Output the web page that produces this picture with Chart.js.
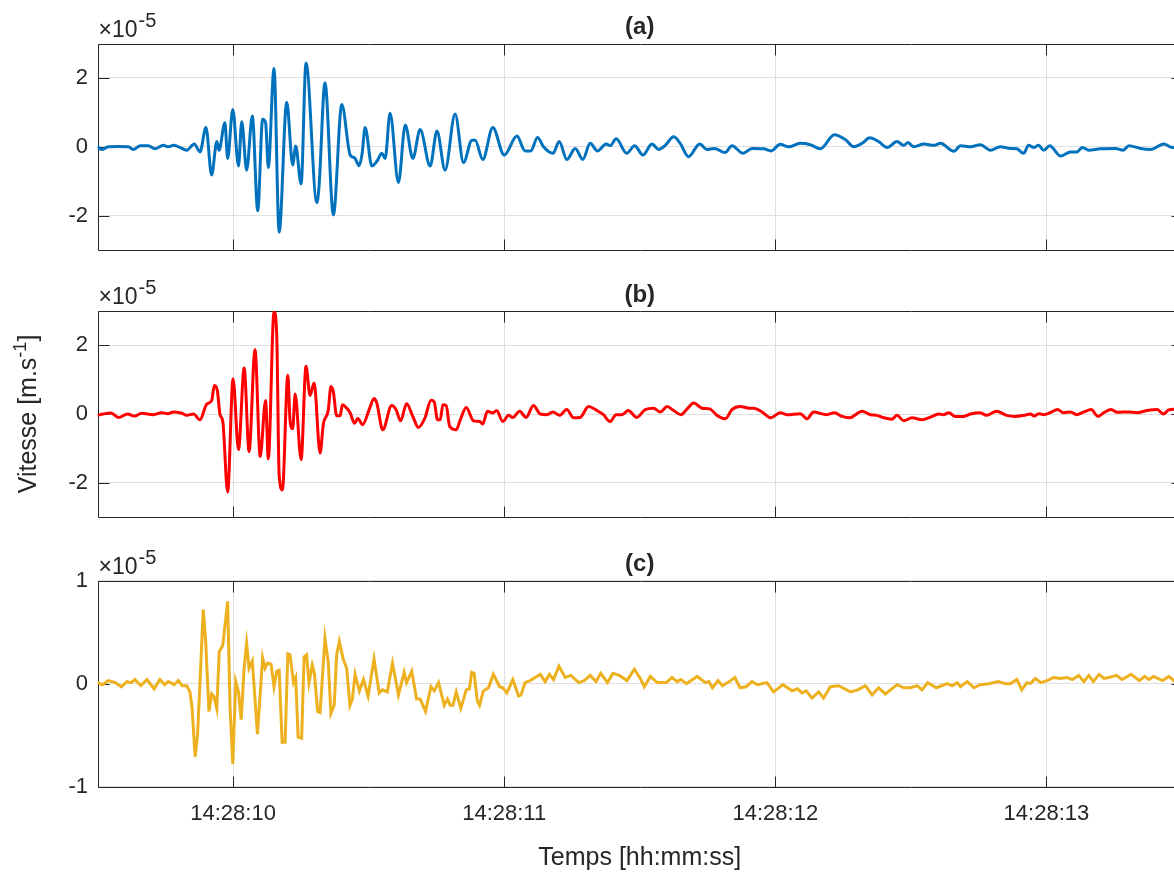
<!DOCTYPE html>
<html>
<head>
<meta charset="utf-8">
<script src="https://cdn.jsdelivr.net/npm/chart.js@4.4.1/dist/chart.umd.min.js"></script>
<style>
  html, body { margin: 0; padding: 0; background: #fff; overflow: hidden; width: 1174px; height: 875px; }
  canvas { position: absolute; left: 0; }
</style>
</head>
<body>
<canvas id="pa" width="1200" height="266" style="top:0px"></canvas>
<canvas id="pb" width="1200" height="266" style="top:270px"></canvas>
<canvas id="pc" width="1200" height="335" style="top:540px"></canvas>
<script>
// time in seconds after 14:28:00, values in units of 1e-5 m/s
var tickSeconds = [10, 11, 12, 13];
var tickLabels = ['14:28:10', '14:28:11', '14:28:12', '14:28:13'];
var yTicksAB = [-2, 0, 2];
var yTicksC = [-1, 0, 1];

var timesA = [9.500,9.515,9.540,9.575,9.614,9.632,9.658,9.687,9.712,9.743,9.761,9.780,9.804,9.829,9.857,9.878,9.900,9.921,9.940,9.948,
  9.970,9.980,9.999,10.020,10.032,10.050,10.071,10.091,10.109,10.120,10.130,10.151,10.170,10.198,10.220,10.231,10.251,10.269,10.309,10.317,
  10.339,10.370,10.401,10.432,10.448,10.465,10.476,10.487,10.512,10.530,10.549,10.561,10.579,10.610,10.635,10.663,10.690,10.727,10.752,10.782,
  10.819,10.850,10.881,10.893,10.921,10.958,11.000,11.047,11.077,11.098,11.123,11.145,11.180,11.203,11.231,11.262,11.290,11.317,11.344,11.376,
  11.391,11.413,11.452,11.481,11.512,11.545,11.570,11.594,11.625,11.649,11.680,11.721,11.748,11.775,11.815,11.840,11.881,11.914,11.957,11.985,
  12.018,12.049,12.092,12.129,12.166,12.218,12.258,12.289,12.320,12.348,12.381,12.412,12.449,12.474,12.489,12.511,12.548,12.585,12.609,12.659,
  12.683,12.720,12.756,12.793,12.830,12.867,12.891,12.916,12.934,12.953,12.971,12.990,13.012,13.052,13.089,13.113,13.132,13.156,13.199,13.255,
  13.283,13.304,13.347,13.384,13.433,13.464,13.500];
var valuesA = [0.02,-0.08,0.00,0.01,0.00,-0.08,0.03,0.03,-0.06,0.04,0.00,0.04,-0.02,-0.10,0.08,-0.15,0.56,-0.82,0.15,-0.10,
  0.70,-0.34,1.08,-0.56,0.73,-0.68,0.89,-1.86,0.80,0.70,-0.60,2.27,-2.48,1.29,-0.53,0.02,-1.08,2.43,-1.62,-1.16,
  1.86,-1.98,1.23,-0.24,-0.32,-0.55,-0.20,0.56,-0.56,-0.43,-0.19,-0.34,0.97,-1.04,0.63,-0.34,0.50,-0.56,0.46,-0.68,
  0.95,-0.46,0.19,0.19,-0.37,0.56,-0.24,0.31,-0.12,-0.12,0.27,0.00,-0.19,0.15,-0.37,-0.05,-0.37,0.10,-0.12,0.08,
  0.03,0.23,-0.19,0.03,-0.24,0.08,-0.08,0.04,0.29,0.10,-0.29,0.08,-0.08,-0.05,-0.17,0.03,-0.19,-0.05,-0.06,-0.12,
  0.07,0.00,0.10,0.06,-0.06,0.35,0.21,0.00,0.10,0.26,0.15,-0.02,0.15,0.04,0.12,0.00,0.08,0.04,0.10,-0.13,
  0.03,0.00,0.06,-0.10,0.00,-0.05,-0.06,-0.19,0.04,-0.02,0.04,-0.10,0.03,-0.27,-0.15,-0.15,-0.02,-0.10,-0.06,-0.05,
  -0.10,0.03,-0.05,-0.08,0.08,-0.02,0.00];

var timesB = [9.500,9.521,9.550,9.577,9.611,9.636,9.663,9.706,9.737,9.759,9.780,9.811,9.829,9.854,9.878,9.903,9.921,9.931,9.942,9.952,
  9.962,9.980,10.000,10.020,10.041,10.059,10.081,10.100,10.120,10.130,10.151,10.161,10.170,10.182,10.202,10.210,10.220,10.229,10.251,10.269,
  10.284,10.299,10.321,10.333,10.351,10.361,10.370,10.382,10.395,10.403,10.413,10.432,10.448,10.460,10.478,10.503,10.520,10.530,10.552,10.585,
  10.601,10.618,10.640,10.665,10.683,10.708,10.730,10.742,10.754,10.764,10.774,10.786,10.799,10.823,10.838,10.860,10.887,10.910,10.921,10.938,
  10.958,10.972,10.995,11.016,11.032,11.057,11.081,11.108,11.133,11.158,11.180,11.204,11.231,11.256,11.280,11.311,11.342,11.366,11.391,11.413,
  11.434,11.458,11.489,11.520,11.551,11.576,11.601,11.625,11.652,11.675,11.699,11.730,11.758,11.785,11.816,11.840,11.871,11.902,11.920,11.951,
  11.984,12.018,12.043,12.092,12.117,12.141,12.190,12.218,12.246,12.274,12.320,12.351,12.375,12.400,12.430,12.449,12.474,12.504,12.541,12.572,
  12.603,12.621,12.640,12.664,12.695,12.720,12.755,12.779,12.816,12.853,12.886,12.917,12.941,12.955,12.971,12.990,13.014,13.041,13.063,13.089,
  13.111,13.138,13.165,13.190,13.212,13.239,13.261,13.304,13.335,13.372,13.409,13.431,13.451,13.470,13.500];
var valuesB = [-0.04,0.00,0.03,-0.10,0.00,-0.06,0.02,-0.02,0.04,0.01,0.06,0.02,-0.04,0.00,-0.17,0.29,0.39,0.83,0.68,-0.02,
  -0.21,-2.27,1.03,-1.04,1.34,-1.09,1.87,-1.24,0.39,-1.30,2.98,2.31,-1.77,-2.21,1.13,-0.17,-0.43,0.58,-1.33,1.39,
  0.54,0.90,-1.14,-0.29,0.10,0.80,0.64,-0.05,-0.05,0.27,0.22,0.03,-0.27,-0.13,-0.31,0.15,0.45,0.32,-0.46,0.25,
  0.13,-0.20,0.30,-0.11,-0.39,-0.11,0.40,0.35,-0.17,-0.17,0.27,0.25,-0.36,-0.46,-0.17,0.19,-0.20,-0.22,-0.29,0.08,
  0.03,0.10,-0.22,-0.04,-0.10,0.08,-0.10,0.25,0.00,-0.02,0.06,-0.04,0.13,-0.11,-0.10,0.22,0.10,-0.02,-0.22,-0.02,
  -0.02,0.10,-0.10,0.13,0.17,0.06,0.22,0.10,-0.02,0.15,0.32,0.17,0.15,-0.04,-0.14,0.13,0.22,0.17,0.17,0.06,
  -0.11,0.04,-0.02,0.01,-0.14,0.06,-0.02,0.04,-0.07,-0.11,0.08,-0.02,-0.04,-0.11,-0.15,-0.04,-0.20,-0.11,-0.17,-0.09,
  0.00,-0.02,0.04,-0.07,-0.07,0.00,0.04,-0.04,0.08,-0.04,-0.07,-0.04,0.00,-0.06,0.01,-0.02,0.04,0.13,0.04,0.06,
  -0.02,0.06,0.13,-0.07,0.04,0.13,0.05,0.06,0.04,0.10,0.13,0.00,0.12,0.14,0.12];

var timesC = [9.500,9.518,9.540,9.565,9.588,9.608,9.624,9.638,9.660,9.682,9.709,9.730,9.748,9.761,9.783,9.798,9.812,9.829,9.841,9.849,
  9.860,9.869,9.878,9.890,9.899,9.911,9.921,9.930,9.940,9.949,9.962,9.980,9.989,9.999,10.010,10.020,10.030,10.041,10.050,10.059,
  10.071,10.090,10.109,10.118,10.127,10.140,10.151,10.161,10.170,10.181,10.192,10.202,10.210,10.223,10.231,10.240,10.253,10.262,10.271,10.280,
  10.292,10.300,10.312,10.321,10.339,10.351,10.361,10.373,10.382,10.392,10.406,10.419,10.431,10.440,10.450,10.466,10.481,10.498,10.520,10.539,
  10.551,10.569,10.588,10.610,10.631,10.640,10.659,10.677,10.690,10.710,10.730,10.742,10.758,10.779,10.791,10.801,10.811,10.823,10.840,10.860,
  10.872,10.880,10.889,10.901,10.909,10.923,10.942,10.960,10.983,10.995,11.010,11.032,11.053,11.062,11.077,11.096,11.114,11.133,11.151,11.167,
  11.182,11.202,11.225,11.246,11.275,11.296,11.317,11.339,11.356,11.381,11.401,11.425,11.453,11.480,11.502,11.517,11.539,11.564,11.598,11.619,
  11.638,11.652,11.672,11.712,11.742,11.755,11.768,11.789,11.805,11.830,11.851,11.870,11.892,11.914,11.934,11.969,11.994,12.028,12.062,12.082,
  12.098,12.114,12.135,12.160,12.178,12.203,12.234,12.277,12.304,12.332,12.357,12.381,12.406,12.449,12.474,12.498,12.523,12.541,12.562,12.594,
  12.634,12.652,12.671,12.683,12.708,12.733,12.756,12.787,12.823,12.849,12.867,12.891,12.909,12.928,12.941,12.959,12.980,13.002,13.027,13.052,
  13.076,13.095,13.119,13.138,13.156,13.173,13.194,13.212,13.230,13.258,13.279,13.312,13.343,13.362,13.378,13.395,13.428,13.452,13.473,13.500];
var valuesC = [0.01,-0.01,0.03,0.01,-0.03,0.02,0.01,0.04,-0.02,0.04,-0.05,0.04,-0.01,0.02,-0.01,0.03,-0.02,-0.02,-0.08,-0.24,
  -0.71,-0.50,0.01,0.72,0.41,-0.27,-0.10,-0.13,-0.24,0.31,0.37,0.80,-0.24,-0.78,0.02,-0.08,-0.35,0.16,0.39,0.15,
  0.22,-0.49,0.25,0.15,0.20,0.19,-0.03,0.12,0.13,-0.57,-0.57,0.29,0.28,0.01,0.06,-0.52,-0.53,0.26,0.28,0.01,
  0.18,0.10,-0.27,-0.28,0.44,0.21,-0.29,-0.21,0.28,0.41,0.24,0.15,-0.21,-0.15,0.09,-0.07,0.04,-0.12,0.24,-0.09,
  -0.06,-0.08,0.20,-0.11,0.11,0.01,0.12,-0.15,-0.15,-0.27,-0.03,-0.07,0.01,-0.21,-0.15,-0.21,-0.21,-0.08,-0.24,-0.06,
  -0.05,0.11,0.10,-0.17,-0.21,-0.07,-0.04,0.09,-0.03,-0.04,-0.09,0.04,-0.12,-0.11,0.01,0.03,0.06,0.09,0.02,0.09,
  0.04,0.17,0.06,0.08,0.01,0.03,0.08,0.02,0.10,0.01,0.10,0.08,0.03,0.14,0.05,-0.03,0.07,0.01,0.01,0.06,
  0.02,0.04,0.00,0.07,0.01,0.02,-0.04,0.03,-0.02,0.02,0.06,-0.04,-0.03,0.02,-0.01,0.01,-0.08,-0.01,-0.07,-0.05,
  -0.09,-0.07,-0.14,-0.08,-0.14,-0.03,-0.02,-0.08,-0.06,-0.02,-0.11,-0.04,-0.10,-0.01,-0.04,-0.04,-0.02,-0.06,0.01,-0.04,
  0.00,-0.02,0.01,-0.03,0.02,-0.04,-0.01,0.00,0.02,0.00,0.00,0.04,-0.06,0.01,0.00,0.05,0.01,0.03,0.06,0.05,
  0.06,0.04,0.08,0.02,0.08,0.02,0.09,0.05,0.06,0.08,0.04,0.09,0.03,0.07,0.04,0.07,0.03,0.07,0.02,0.05];

var FONT = '"Liberation Sans", Arial, Helvetica, sans-serif';
var INK = '#262626';
var TICK_LEN = 11;
Chart.defaults.font.family = FONT;
Chart.defaults.color = INK;

// matlab style box, inward ticks, title, exponent and y label
var matlabAxes = {
  id: 'matlabAxes',
  beforeDatasetsDraw: function(chart, args, opts) {
    var ctx = chart.ctx, a = chart.chartArea, x = chart.scales.x, y = chart.scales.y;
    var L = Math.round(a.left) + 0.5, R = Math.round(a.right) + 0.5;
    var T = Math.round(a.top) + 0.5, B = Math.round(a.bottom) + 0.5;
    ctx.save();
    ctx.strokeStyle = INK;
    ctx.lineWidth = 1;
    ctx.beginPath();
    ctx.rect(L, T, R - L, B - T);
    x.ticks.forEach(function(t) {
      var px = Math.round(x.getPixelForValue(t.value)) + 0.5;
      ctx.moveTo(px, B); ctx.lineTo(px, B - TICK_LEN);
      ctx.moveTo(px, T); ctx.lineTo(px, T + TICK_LEN);
    });
    y.ticks.forEach(function(t) {
      var py = Math.round(y.getPixelForValue(t.value)) + 0.5;
      ctx.moveTo(L, py); ctx.lineTo(L + TICK_LEN, py);
      ctx.moveTo(R, py); ctx.lineTo(R - TICK_LEN, py);
    });
    ctx.stroke();
    ctx.restore();
  },
  afterDraw: function(chart, args, opts) {
    var ctx = chart.ctx, a = chart.chartArea;
    ctx.save();
    ctx.fillStyle = INK;
    // panel title
    ctx.font = 'bold 24px ' + FONT;
    ctx.textAlign = 'center';
    ctx.textBaseline = 'middle';
    ctx.fillText(opts.title, (a.left + a.right) / 2, a.top - 16);
    // x10^-5 multiplier
    ctx.textAlign = 'left';
    ctx.textBaseline = 'alphabetic';
    ctx.font = '23px ' + FONT;
    var bx = a.left + 1, by = a.top - 7;
    ctx.fillText('\u00d710', bx, by);
    var w = ctx.measureText('\u00d710').width;
    ctx.font = '20px ' + FONT;
    ctx.fillText('-5', bx + w + 1, by - 10);
    // y axis label
    if (opts.yLabel) {
      ctx.translate(26, (a.top + a.bottom) / 2);
      ctx.rotate(-Math.PI / 2);
      ctx.font = '25px ' + FONT;
      var w1 = ctx.measureText('Vitesse [m.s').width;
      var w3 = ctx.measureText(']').width;
      ctx.font = '18px ' + FONT;
      var w2 = ctx.measureText('-1').width;
      var sx = -(w1 + w2 + w3) / 2;
      ctx.font = '25px ' + FONT;
      ctx.fillText('Vitesse [m.s', sx, 10);
      ctx.fillText(']', sx + w1 + w2, 10);
      ctx.font = '18px ' + FONT;
      ctx.fillText('-1', sx + w1, 0);
    }
    ctx.restore();
  }
};

function makePanel(id, times, values, color, smooth, yTicks, yMin, yMax, pad, showX, title, yLabel) {
  var pts = times.map(function(t, i) { return {x: t, y: values[i]}; });
  return new Chart(document.getElementById(id), {
    type: 'line',
    data: {
      datasets: [{
        data: pts,
        borderColor: color,
        borderWidth: 3,
        pointRadius: 0,
        cubicInterpolationMode: smooth ? 'monotone' : 'default',
        tension: 0,
        fill: false
      }]
    },
    plugins: [matlabAxes],
    options: {
      responsive: false,
      animation: false,
      devicePixelRatio: 1,
      layout: { padding: pad },
      plugins: {
        legend: { display: false },
        tooltip: { enabled: false },
        matlabAxes: { title: title, yLabel: yLabel }
      },
      scales: {
        x: {
          type: 'linear',
          min: 9.5,
          max: 13.5,
          afterBuildTicks: function(s) { s.ticks = tickSeconds.map(function(v) { return {value: v}; }); },
          afterFit: function(s) { s.paddingLeft = 0; s.paddingRight = 0; },
          grid: { color: '#dfdfdf', lineWidth: 1, drawTicks: false },
          border: { display: false },
          ticks: {
            display: showX,
            padding: 14,
            maxRotation: 0,
            font: { size: 22 },
            color: INK,
            callback: function(v, i) { return tickLabels[i]; }
          },
          title: {
            display: showX,
            text: 'Temps [hh:mm:ss]',
            color: INK,
            font: { size: 25 },
            padding: { top: 2, bottom: 2 }
          }
        },
        y: {
          min: yMin,
          max: yMax,
          afterBuildTicks: function(s) { s.ticks = yTicks.map(function(v) { return {value: v}; }); },
          afterFit: function(s) { s.width = 97.5; s.paddingTop = 0; s.paddingBottom = 0; },
          grid: { color: '#dfdfdf', lineWidth: 1, drawTicks: false },
          border: { display: false },
          ticks: { padding: 9.5, font: { size: 22 }, color: INK }
        }
      }
    }
  });
}

makePanel('pa', timesA, valuesA, '#0072BD', true, yTicksAB, -3, 3,
  {top: 43.5, bottom: 16, left: 0, right: 18}, false, '(a)', false);
makePanel('pb', timesB, valuesB, '#FF0000', true, yTicksAB, -3, 3,
  {top: 41, bottom: 19, left: 0, right: 18}, false, '(b)', true);
makePanel('pc', timesC, valuesC, '#EDB120', false, yTicksC, -1, 1,
  {top: 40.7, bottom: 0, left: 0, right: 18}, true, '(c)', false);
</script>
</body>
</html>
